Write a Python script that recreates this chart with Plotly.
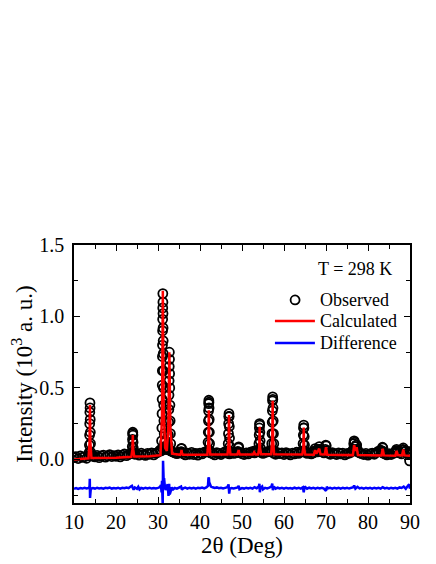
import numpy as np
import plotly.graph_objects as go

# 2theta scan grid used for the background part of the observed pattern
base_x = np.arange(10.0, 90.01, 0.5)
base_y = [
    0.012, 0.020, 0.006, 0.024, 0.014, 0.019, 0.008, 0.026, 0.030, 0.022,
    0.018, 0.028, 0.012, 0.025, 0.030, 0.016, 0.024, 0.034, 0.020, 0.027,
    0.022, 0.032, 0.018, 0.030, 0.038, 0.026, 0.034, 0.040, 0.045, 0.036,
    0.040, 0.030, 0.044, 0.034, 0.028, 0.042, 0.036, 0.046, 0.032, 0.044,
    0.050, 0.065, 0.080, 0.090, 0.085, 0.070, 0.060, 0.052, 0.046, 0.040,
    0.046, 0.054, 0.040, 0.032, 0.044, 0.036, 0.049, 0.034, 0.042, 0.030,
    0.044, 0.038, 0.050, 0.052, 0.064, 0.046, 0.040, 0.032, 0.048, 0.042,
    0.034, 0.046, 0.054, 0.044, 0.038, 0.050, 0.042, 0.046, 0.056, 0.048,
    0.040, 0.034, 0.046, 0.038, 0.050, 0.054, 0.046, 0.058, 0.064, 0.050,
    0.042, 0.048, 0.052, 0.060, 0.054, 0.044, 0.036, 0.048, 0.040, 0.046,
    0.034, 0.048, 0.040, 0.032, 0.044, 0.038, 0.050, 0.042, 0.052, 0.056,
    0.050, 0.042, 0.048, 0.038, 0.046, 0.054, 0.052, 0.060, 0.054, 0.046,
    0.060, 0.044, 0.036, 0.048, 0.040, 0.034, 0.046, 0.038, 0.044, 0.032,
    0.040, 0.044, 0.050, 0.062, 0.066, 0.054, 0.046, 0.040, 0.034, 0.042,
    0.030, 0.038, 0.044, 0.036, 0.048, 0.058, 0.064, 0.046, 0.038, 0.032,
    0.040, 0.034, 0.042, 0.048, 0.054, 0.046, 0.038, 0.052, 0.060, 0.042,
    0.034,
]

# observed points on the Bragg peaks
peak_x = [
    13.62, 13.67, 13.71, 13.74, 13.77, 13.80, 13.83, 13.86, 13.89, 13.93, 13.98,
    23.82, 23.88, 23.93, 23.97, 24.00, 24.03, 24.07, 24.12, 24.18,
    30.75, 30.85, 30.92, 30.96, 30.99, 31.01, 31.03, 31.05, 31.07, 31.09, 31.11, 31.13,
    31.15, 31.17, 31.19, 31.21, 31.23, 31.25, 31.28, 31.31, 31.35, 31.40, 31.48, 31.58,
    31.70, 31.85, 32.00, 32.20, 32.30,
    32.40, 32.48, 32.54, 32.58, 32.62, 32.65, 32.68, 32.71, 32.74, 32.77, 32.80, 32.84,
    32.89, 32.95, 33.02, 33.12,
    35.45, 35.55, 35.62, 35.70,
    41.85, 41.92, 41.97, 42.01, 42.04, 42.07, 42.10, 42.13, 42.16, 42.19, 42.23, 42.28, 42.35,
    46.65, 46.72, 46.78, 46.82, 46.86, 46.90, 46.94, 46.98, 47.03, 47.10, 47.18,
    49.05, 49.15, 49.22, 49.32,
    52.80, 53.00,
    53.95, 54.03, 54.09, 54.14, 54.18, 54.22, 54.26, 54.31, 54.38, 54.46,
    57.00, 57.08, 57.14, 57.19, 57.23, 57.27, 57.30, 57.34, 57.38, 57.43, 57.49, 57.57, 57.66,
    64.45, 64.54, 64.60, 64.65, 64.70, 64.75, 64.81, 64.88, 64.97,
    67.30, 67.40, 67.50, 68.30, 68.40, 68.50,
    69.85, 69.95, 70.05, 70.15,
    76.50, 76.60, 76.70, 76.80, 77.00, 77.20, 77.30, 77.45,
    83.35, 83.45, 83.55, 83.65,
    86.70, 86.80, 86.90, 88.30, 88.40, 88.50,
    89.80, 89.90,
]
peak_y = [
    0.05, 0.10, 0.17, 0.25, 0.33, 0.395, 0.36, 0.28, 0.19, 0.11, 0.05,
    0.05, 0.09, 0.14, 0.18, 0.19, 0.17, 0.12, 0.08, 0.05,
    0.06, 0.13, 0.22, 0.32, 0.42, 0.52, 0.62, 0.72, 0.80, 0.90, 0.98, 1.06,
    1.16, 1.10, 1.02, 0.92, 0.83, 0.74, 0.62, 0.50, 0.38, 0.27, 0.18, 0.12,
    0.09, 0.07, 0.07, 0.08, 0.09,
    0.10, 0.17, 0.26, 0.35, 0.45, 0.55, 0.65, 0.75, 0.70, 0.60, 0.50, 0.38,
    0.27, 0.18, 0.11, 0.06,
    0.05, 0.075, 0.077, 0.05,
    0.06, 0.12, 0.19, 0.27, 0.34, 0.39, 0.414, 0.40, 0.36, 0.28, 0.19, 0.11, 0.06,
    0.06, 0.11, 0.18, 0.25, 0.30, 0.32, 0.30, 0.23, 0.15, 0.09, 0.05,
    0.05, 0.08, 0.088, 0.05,
    0.05, 0.06,
    0.06, 0.11, 0.17, 0.22, 0.25, 0.24, 0.19, 0.13, 0.08, 0.05,
    0.06, 0.11, 0.18, 0.26, 0.34, 0.41, 0.437, 0.42, 0.36, 0.27, 0.18, 0.11, 0.06,
    0.06, 0.11, 0.17, 0.22, 0.24, 0.22, 0.16, 0.10, 0.06,
    0.06, 0.075, 0.06, 0.07, 0.09, 0.07,
    0.07, 0.10, 0.095, 0.06,
    0.07, 0.11, 0.13, 0.12, 0.09, 0.10, 0.10, 0.07,
    0.06, 0.085, 0.08, 0.055,
    0.06, 0.07, 0.06, 0.07, 0.08, 0.065,
    0.055, -0.01,
]

# calculated (Rietveld fit) profile
calc_x = [
    10.0, 13.45, 13.70, 13.80, 13.90, 14.15, 20.0, 23.65, 23.90, 24.00, 24.10, 24.35,
    28.0, 30.60, 30.95, 31.15, 31.35, 31.70, 32.10, 32.45, 32.70, 32.95, 33.35,
    35.30, 35.50, 35.60, 35.70, 35.95, 41.75, 42.00, 42.10, 42.20, 42.45,
    46.55, 46.80, 46.90, 47.00, 47.25, 48.90, 49.10, 49.20, 49.30, 49.50,
    52.60, 52.90, 53.20, 53.85, 54.10, 54.20, 54.30, 54.55,
    56.95, 57.20, 57.30, 57.40, 57.65, 64.35, 64.60, 64.70, 64.80, 65.05,
    67.10, 67.40, 67.70, 68.40, 68.70, 69.70, 70.00, 70.30,
    76.40, 76.70, 77.00, 77.30, 77.60, 83.20, 83.50, 83.80,
    86.50, 86.80, 87.10, 88.10, 88.40, 88.70, 90.0,
]
calc_y = [
    0.000, 0.008, 0.12, 0.38, 0.12, 0.010, 0.012, 0.018, 0.07, 0.17, 0.07, 0.020,
    0.022, 0.030, 0.30, 1.18, 0.35, 0.08, 0.06, 0.22, 0.75, 0.22, 0.040,
    0.032, 0.045, 0.066, 0.045, 0.032, 0.032, 0.13, 0.344, 0.13, 0.035,
    0.035, 0.11, 0.31, 0.11, 0.035, 0.035, 0.05, 0.065, 0.05, 0.035,
    0.035, 0.05, 0.035, 0.035, 0.08, 0.228, 0.08, 0.036,
    0.036, 0.14, 0.41, 0.14, 0.036, 0.035, 0.08, 0.223, 0.08, 0.034,
    0.033, 0.065, 0.040, 0.075, 0.035, 0.034, 0.085, 0.033,
    0.030, 0.10, 0.060, 0.085, 0.030, 0.028, 0.075, 0.028,
    0.026, 0.06, 0.030, 0.028, 0.07, 0.028, 0.025,
]

# difference curve (observed - calculated), offset to -0.2
diff_x = [
    10.0, 10.5, 11.0, 11.5, 12.0, 12.5, 13.0, 13.5, 13.70, 13.76, 13.82, 13.88, 14.0, 14.5,
    15.0, 15.5, 16.0, 16.5, 17.0, 17.5, 18.0, 18.5, 19.0, 19.5, 20.0, 20.5, 21.0, 21.5,
    22.0, 22.5, 23.0, 23.5, 23.8, 24.0, 24.2, 24.5, 25.0, 25.3, 25.6, 26.0, 26.5, 27.0,
    27.5, 28.0, 28.5, 29.0, 29.5, 30.0, 30.4, 30.7, 30.85, 30.95, 31.05, 31.12, 31.20,
    31.28, 31.35, 31.45, 31.6, 31.8, 32.0, 32.3, 32.5, 32.65, 32.8, 33.0, 33.3, 33.6,
    34.0, 34.5, 35.0, 35.5, 35.7, 36.0, 36.5, 37.0, 37.5, 38.0, 38.5, 39.0, 39.5, 40.0,
    40.5, 41.0, 41.5, 41.9, 42.0, 42.1, 42.2, 42.35, 42.6, 43.0, 43.5, 44.0, 44.5, 45.0,
    45.5, 46.0, 46.5, 46.8, 46.95, 47.1, 47.5, 48.0, 48.5, 49.0, 49.2, 49.4, 50.0, 50.5,
    51.0, 51.5, 52.0, 52.5, 53.0, 53.5, 54.0, 54.15, 54.25, 54.4, 54.8, 55.0, 55.5, 56.0,
    56.5, 57.0, 57.2, 57.35, 57.6, 58.0, 58.5, 59.0, 59.5, 60.0, 60.5, 61.0, 61.5, 62.0,
    62.5, 63.0, 63.5, 64.0, 64.5, 64.7, 64.9, 65.5, 66.0, 66.5, 67.0, 67.5, 68.0, 68.5,
    69.0, 69.5, 70.0, 70.2, 70.5, 71.0, 71.5, 72.0, 72.5, 73.0, 73.5, 74.0, 74.5, 75.0,
    75.5, 76.0, 76.5, 76.7, 77.0, 77.5, 78.0, 78.5, 79.0, 79.5, 80.0, 80.5, 81.0, 81.5,
    82.0, 82.5, 83.0, 83.5, 84.0, 84.5, 85.0, 85.5, 86.0, 86.5, 87.0, 87.5, 88.0, 88.5,
    89.0, 89.5, 89.8, 90.0,
]
diff_y = [
    -0.205, -0.200, -0.206, -0.201, -0.204, -0.199, -0.203, -0.200, -0.190, -0.135, -0.270, -0.215, -0.205, -0.200,
    -0.204, -0.198, -0.203, -0.200, -0.205, -0.199, -0.202, -0.197, -0.204, -0.200, -0.203, -0.198, -0.204, -0.199,
    -0.202, -0.197, -0.201, -0.190, -0.185, -0.200, -0.212, -0.196, -0.205, -0.192, -0.210, -0.200, -0.204, -0.198,
    -0.203, -0.199, -0.204, -0.200, -0.203, -0.199, -0.195, -0.180, -0.230, -0.150, -0.280, -0.320, -0.010,
    -0.090, -0.150, -0.130, -0.180, -0.215, -0.190, -0.175, -0.255, -0.170, -0.245, -0.215, -0.195, -0.210,
    -0.200, -0.205, -0.199, -0.190, -0.212, -0.203, -0.197, -0.204, -0.198, -0.203, -0.199, -0.204, -0.198, -0.202,
    -0.197, -0.203, -0.196, -0.185, -0.135, -0.125, -0.160, -0.175, -0.190, -0.195, -0.200, -0.196, -0.202, -0.198,
    -0.203, -0.199, -0.195, -0.175, -0.240, -0.205, -0.200, -0.204, -0.198, -0.196, -0.185, -0.208, -0.200, -0.204,
    -0.198, -0.203, -0.199, -0.204, -0.195, -0.202, -0.190, -0.170, -0.230, -0.200, -0.190, -0.210, -0.199, -0.203,
    -0.197, -0.190, -0.170, -0.215, -0.190, -0.205, -0.198, -0.203, -0.199, -0.204, -0.198, -0.203, -0.200, -0.205,
    -0.198, -0.203, -0.199, -0.204, -0.195, -0.230, -0.190, -0.205, -0.198, -0.203, -0.199, -0.204, -0.198, -0.203,
    -0.199, -0.204, -0.220, -0.192, -0.203, -0.199, -0.204, -0.198, -0.203, -0.199, -0.204, -0.198, -0.203, -0.199,
    -0.204, -0.198, -0.195, -0.182, -0.205, -0.192, -0.203, -0.199, -0.204, -0.198, -0.203, -0.199, -0.204, -0.198,
    -0.203, -0.199, -0.204, -0.194, -0.203, -0.199, -0.204, -0.198, -0.203, -0.199, -0.204, -0.196, -0.200, -0.190,
    -0.205, -0.185, -0.175, -0.205,
]

obs_x = list(base_x) + peak_x
obs_y = base_y + peak_y
order = np.argsort(obs_x, kind="stable")
obs_x = np.array(obs_x)[order]
obs_y = np.array(obs_y)[order]

FONT = "Liberation Serif"

fig = go.Figure()
fig.add_trace(go.Scatter(x=obs_x, y=obs_y, mode="markers", name="Observed",
                         marker=dict(symbol="circle-open", size=9, color="black",
                                     line=dict(width=1.8, color="black"))))
fig.add_trace(go.Scatter(x=calc_x, y=calc_y, mode="lines", name="Calculated",
                         line=dict(color="#ff0000", width=2.5)))
fig.add_trace(go.Scatter(x=diff_x, y=diff_y, mode="lines", name="Difference",
                         line=dict(color="#0000ff", width=2.5)))

axis_common = dict(showline=True, linecolor="black", linewidth=1.5, mirror="ticks",
                   ticks="inside", ticklen=6, tickwidth=1.3, tickcolor="black",
                   showgrid=False, zeroline=False,
                   tickfont=dict(family=FONT, size=20, color="black"))

fig.update_xaxes(range=[10, 90], dtick=10, tick0=10,
                 minor=dict(dtick=5, ticks="inside", ticklen=4, tickcolor="black", tickwidth=1.3),
                 title=dict(text="2θ (Deg)", font=dict(family=FONT, size=23, color="black"), standoff=5),
                 **axis_common)
fig.update_yaxes(range=[-0.305, 1.5], dtick=0.5, tick0=0, tickformat=".1f", ticklabelstandoff=4,
                 minor=dict(dtick=0.25, ticks="inside", ticklen=4, tickcolor="black", tickwidth=1.3),
                 title=dict(text="Intensity (10<sup>3</sup> a. u.)",
                            font=dict(family=FONT, size=23, color="black"), standoff=4),
                 **axis_common)

# hand-placed legend (paper coordinates)
leg_x_sym = 0.658
leg_x0, leg_x1 = 0.598, 0.717
leg_x_txt = 0.727
leg_rows = [0.787, 0.705, 0.620]
fig.add_shape(type="circle", xref="paper", yref="paper", xsizemode="pixel", ysizemode="pixel",
              xanchor=leg_x_sym, yanchor=leg_rows[0], x0=-4.5, x1=4.5, y0=-4.5, y1=4.5,
              line=dict(color="black", width=1.8))
fig.add_shape(type="line", xref="paper", yref="paper", x0=leg_x0, x1=leg_x1,
              y0=leg_rows[1], y1=leg_rows[1], line=dict(color="#ff0000", width=2.5))
fig.add_shape(type="line", xref="paper", yref="paper", x0=leg_x0, x1=leg_x1,
              y0=leg_rows[2], y1=leg_rows[2], line=dict(color="#0000ff", width=2.5))
for name, yy in zip(["Observed", "Calculated", "Difference"], leg_rows):
    fig.add_annotation(x=leg_x_txt, y=yy, xref="paper", yref="paper", text=name,
                       xanchor="left", yanchor="middle", showarrow=False,
                       font=dict(family=FONT, size=18, color="black"))

fig.add_annotation(x=0.836, y=0.907, xref="paper", yref="paper", text="T = 298 K",
                   xanchor="center", yanchor="middle", showarrow=False,
                   font=dict(family=FONT, size=18, color="black"))

fig.update_layout(
    width=436, height=564,
    margin=dict(l=66, r=34, t=237, b=69),
    paper_bgcolor="white", plot_bgcolor="white",
    font=dict(family=FONT, color="black"),
    showlegend=False,
)

fig.write_html("out.html")
